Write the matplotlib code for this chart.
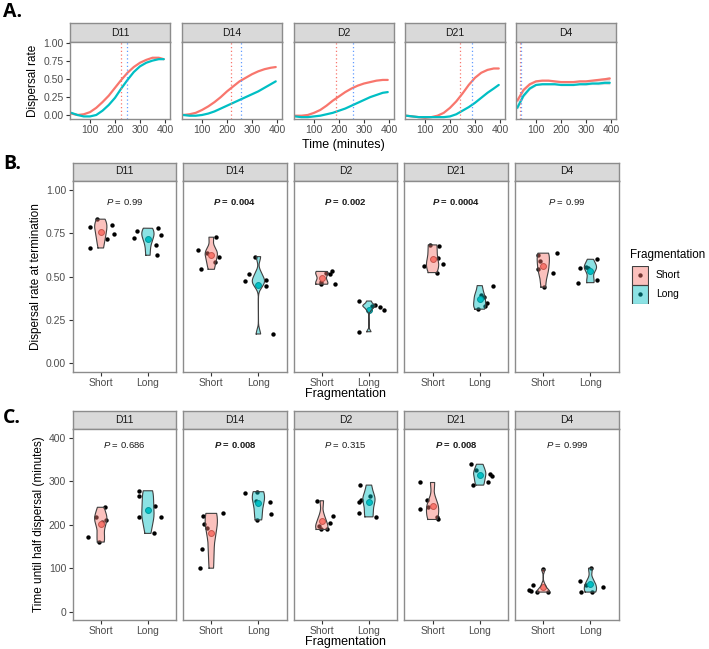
import matplotlib
matplotlib.use("Agg")
import matplotlib.pyplot as plt
import numpy as np

plt.rcParams["font.family"] = ["Liberation Sans", "DejaVu Sans"]
plt.rcParams["mathtext.fontset"] = "custom"
plt.rcParams["mathtext.it"] = "Liberation Sans:italic"
plt.rcParams["mathtext.bf"] = "Liberation Sans:bold:italic"

# ---------------- data ----------------
donors = ["D11", "D14", "D2", "D21", "D4"]
groups = ["Short", "Long"]

# A. dispersal curves (smoothed), one value per time point
minutes = [25, 50, 75, 100, 125, 150, 175, 200, 225, 250, 275, 300, 325, 350, 375, 395]
curve_short = [
    [0.02, 0.00, 0.01, 0.04, 0.10, 0.18, 0.27, 0.38, 0.49, 0.59, 0.67, 0.73, 0.77, 0.80, 0.80, 0.78],
    [0.00, 0.01, 0.03, 0.07, 0.12, 0.18, 0.25, 0.33, 0.40, 0.47, 0.52, 0.57, 0.61, 0.64, 0.66, 0.67],
    [-0.01, -0.01, 0.00, 0.03, 0.07, 0.13, 0.20, 0.26, 0.32, 0.37, 0.41, 0.44, 0.46, 0.48, 0.49, 0.49],
    [-0.01, -0.02, -0.03, -0.04, -0.03, -0.01, 0.03, 0.10, 0.19, 0.30, 0.42, 0.52, 0.59, 0.63, 0.65, 0.65],
    [0.20, 0.35, 0.43, 0.47, 0.48, 0.48, 0.47, 0.46, 0.46, 0.46, 0.47, 0.47, 0.48, 0.49, 0.50, 0.51],
]
curve_long = [
    [0.03, 0.00, -0.02, -0.02, 0.00, 0.06, 0.14, 0.24, 0.37, 0.49, 0.60, 0.68, 0.73, 0.76, 0.78, 0.78],
    [0.00, -0.01, -0.01, 0.00, 0.02, 0.05, 0.09, 0.13, 0.17, 0.21, 0.25, 0.29, 0.33, 0.38, 0.43, 0.47],
    [-0.02, -0.03, -0.03, -0.02, -0.01, 0.01, 0.03, 0.06, 0.09, 0.13, 0.17, 0.21, 0.25, 0.28, 0.31, 0.32],
    [-0.01, -0.02, -0.03, -0.03, -0.03, -0.03, -0.03, -0.02, 0.01, 0.06, 0.11, 0.17, 0.24, 0.31, 0.37, 0.42],
    [0.10, 0.27, 0.37, 0.42, 0.43, 0.43, 0.43, 0.42, 0.42, 0.42, 0.43, 0.43, 0.44, 0.44, 0.45, 0.45],
]
d4_band = [0.03, 0.02, 0.015, 0.01, 0.01, 0.01, 0.01, 0.01, 0.01, 0.01, 0.01, 0.012, 0.015, 0.018, 0.022, 0.026]
half_time_short = [224, 216, 188, 240, 36]
half_time_long = [248, 255, 257, 287, 38]

# B. dispersal rate at termination
rate_short = [
    [0.785, 0.831, 0.800, 0.748, 0.717, 0.665],
    [0.654, 0.727, 0.613, 0.638, 0.583, 0.542],
    [0.520, 0.530, 0.515, 0.456, 0.470, 0.460],
    [0.683, 0.677, 0.561, 0.571, 0.609, 0.523],
    [0.635, 0.625, 0.590, 0.542, 0.523, 0.439],
]
rate_short_x = [
    [0.78, 0.92, 1.24, 1.28, 1.13, 0.78],
    [0.72, 1.11, 1.16, 0.90, 1.07, 0.79],
    [1.10, 1.22, 1.17, 1.27, 0.98, 0.99],
    [0.95, 1.13, 0.81, 1.22, 1.11, 1.10],
    [1.30, 0.88, 0.93, 0.88, 1.21, 1.01],
]
rate_long = [
    [0.725, 0.762, 0.779, 0.738, 0.681, 0.623],
    [0.615, 0.517, 0.473, 0.481, 0.448, 0.169],
    [0.359, 0.336, 0.327, 0.308, 0.182, 0.333],
    [0.448, 0.394, 0.384, 0.346, 0.312, 0.330],
    [0.600, 0.548, 0.465, 0.481, 0.557, 0.550],
]
rate_long_x = [
    [1.70, 1.76, 2.22, 2.28, 2.17, 2.19],
    [1.93, 1.80, 1.72, 2.17, 2.17, 2.30],
    [1.80, 2.12, 2.24, 2.32, 1.80, 2.07],
    [2.28, 2.02, 2.09, 2.16, 1.96, 2.12],
    [2.14, 1.78, 1.74, 2.14, 1.90, 1.95],
]
rate_p = ["0.99", "0.004", "0.002", "0.0004", "0.99"]

# C. time until half dispersal
half_short = [
    [172, 218, 240, 211, 207, 160],
    [100, 143, 221, 201, 192, 226],
    [255, 220, 205, 197, 189, 189],
    [297, 257, 236, 241, 218, 212],
    [97, 61, 50, 48, 45, 45],
]
half_short_x = [
    [0.73, 0.89, 1.08, 1.12, 1.03, 0.97],
    [0.77, 0.81, 0.83, 0.85, 0.90, 1.25],
    [0.89, 1.23, 1.17, 0.95, 0.98, 1.11],
    [0.73, 0.88, 0.73, 0.90, 1.09, 1.11],
    [1.00, 0.79, 0.70, 0.74, 0.86, 1.09],
]
half_long = [
    [278, 267, 217, 243, 218, 180],
    [274, 276, 255, 253, 225, 211],
    [291, 257, 253, 226, 218, 266],
    [339, 317, 313, 299, 291, 326],
    [100, 71, 61, 56, 45, 45],
]
half_long_x = [
    [1.82, 1.81, 1.81, 2.15, 2.28, 2.12],
    [1.71, 1.98, 1.95, 2.25, 2.27, 1.98],
    [1.82, 1.84, 1.79, 1.79, 2.14, 2.03],
    [1.81, 2.21, 2.25, 2.18, 1.86, 1.93],
    [2.01, 1.77, 1.91, 2.26, 1.81, 2.04],
]
half_p = ["0.686", "0.008", "0.315", "0.008", "0.999"]

# ---------------- style ----------------
RED = "#F8766D"
TEAL = "#00BFC4"
BLUE = "#619CFF"
DARK_RED = "#9C3A33"
DARK_TEAL = "#00787B"
FILL_ALPHA = 0.45
BORDER = "#8C8C8C"
TICK_COL = "#4D4D4D"
W, H = 709, 649

fig = plt.figure(figsize=(W / 100, H / 100), dpi=100)


def px_axes(left, top, right, bottom):
    return fig.add_axes([left / W, 1 - bottom / H, (right - left) / W, (bottom - top) / H])


def strip(left, top, right, bottom, label):
    s = px_axes(left, top, right, bottom)
    s.set_facecolor("#D9D9D9")
    s.set_xticks([])
    s.set_yticks([])
    for sp in s.spines.values():
        sp.set_color(BORDER)
        sp.set_linewidth(1.0)
    s.text(0.5, 0.5, label, ha="center", va="center", fontsize=7.5, color="#1A1A1A",
           transform=s.transAxes)


def frame(ax):
    for sp in ax.spines.values():
        sp.set_color(BORDER)
        sp.set_linewidth(1.0)
    ax.tick_params(length=3, width=0.8, color="#333333", labelsize=7.5,
                   labelcolor=TICK_COL, pad=1.5)


def violin(ax, x0, vals, color, half_w=0.13):
    v = np.asarray(vals, dtype=float)
    n = len(v)
    q75, q25 = np.percentile(v, [75, 25])
    bw = 0.9 * min(v.std(ddof=1), (q75 - q25) / 1.34) * n ** -0.2
    grid = np.linspace(v.min(), v.max(), 256)
    dens = np.exp(-0.5 * ((grid[:, None] - v[None, :]) / bw) ** 2).sum(axis=1)
    half = dens / dens.max() * half_w
    ax.fill_betweenx(grid, x0 - half, x0 + half, facecolor=color, alpha=FILL_ALPHA,
                     edgecolor="none", zorder=4)
    xs = np.concatenate([x0 - half, (x0 + half)[::-1], [x0 - half[0]]])
    ys = np.concatenate([grid, grid[::-1], [grid[0]]])
    ax.plot(xs, ys, color="#404040", lw=0.8, zorder=5)


def p_text(ax, y, p):
    bold = float(p) < 0.05
    if bold:
        s = r"$\mathbf{P}$ = " + p
    else:
        s = r"$\mathit{P}$ = " + p
    ax.text(1.5, y, s, ha="center", va="center", fontsize=6.8,
            fontweight="bold" if bold else "normal", color="#1A1A1A")


# ---------------- panel A ----------------
a_left = [70, 182, 294, 405, 516]
for i, d in enumerate(donors):
    l = a_left[i]
    strip(l, 23, l + 100, 42, d)
    ax = px_axes(l, 42, l + 100, 119)
    frame(ax)
    if d == "D4":
        lo_s = np.array(curve_short[i]) - np.array(d4_band)
        hi_s = np.array(curve_short[i]) + np.array(d4_band)
        lo_l = np.array(curve_long[i]) - np.array(d4_band)
        hi_l = np.array(curve_long[i]) + np.array(d4_band)
        ax.fill_between(minutes, lo_s, hi_s, color="#BBBBBB", alpha=0.5, lw=0)
        ax.fill_between(minutes, lo_l, hi_l, color="#BBBBBB", alpha=0.5, lw=0)
    ax.plot(minutes, curve_short[i], color=RED, lw=1.6, solid_capstyle="round")
    ax.plot(minutes, curve_long[i], color=TEAL, lw=1.6, solid_capstyle="round")
    ax.axvline(half_time_short[i], color=RED, ls=(0, (1, 2)), lw=0.9)
    ax.axvline(half_time_long[i], color=BLUE, ls=(0, (1, 2)), lw=0.9)
    ax.set_xlim(20, 420)
    ax.set_ylim(-0.056, 1.02)
    ax.set_xticks([100, 200, 300, 400])
    ax.set_yticks([0, 0.25, 0.5, 0.75, 1.0])
    if i == 0:
        ax.set_yticklabels(["0.00", "0.25", "0.50", "0.75", "1.00"])
        ax.set_ylabel("Dispersal rate", fontsize=8.5, labelpad=3)
    else:
        ax.tick_params(axis="y", left=False, labelleft=False)

fig.text(343 / W, 1 - 145 / H, "Time (minutes)", ha="center", va="center", fontsize=9)

# ---------------- panels B and C ----------------
bc_left = [72.5, 183, 293.5, 404.3, 515]
bc_width = 103.7


def dot_panel(ax, i, short, short_x, long_, long_x, p, p_y):
    ax.scatter(short_x[i], short[i], s=10, color="black", zorder=2, lw=0)
    ax.scatter(long_x[i], long_[i], s=10, color="black", zorder=2, lw=0)
    ax.scatter([1], [np.mean(short[i])], s=18, facecolor=RED, edgecolor=DARK_RED,
               lw=0.7, zorder=3)
    ax.scatter([2], [np.mean(long_[i])], s=18, facecolor=TEAL, edgecolor=DARK_TEAL,
               lw=0.7, zorder=3)
    violin(ax, 1, short[i], RED)
    violin(ax, 2, long_[i], TEAL)
    p_text(ax, p_y, p[i])
    ax.set_xlim(0.4, 2.6)
    ax.set_xticks([1, 2])
    ax.set_xticklabels(groups)


for i, d in enumerate(donors):
    l = bc_left[i]
    # B
    strip(l, 162.5, l + bc_width, 180.5, d)
    ax = px_axes(l, 180.5, l + bc_width, 371.7)
    frame(ax)
    dot_panel(ax, i, rate_short, rate_short_x, rate_long, rate_long_x, rate_p, 0.93)
    ax.set_ylim(-0.0485, 1.054)
    ax.set_yticks([0, 0.25, 0.5, 0.75, 1.0])
    if i == 0:
        ax.set_yticklabels(["0.00", "0.25", "0.50", "0.75", "1.00"])
        ax.set_ylabel("Dispersal rate at termination", fontsize=8.5, labelpad=3)
    else:
        ax.tick_params(axis="y", left=False, labelleft=False)

    # C
    strip(l, 411, l + bc_width, 429, d)
    ax = px_axes(l, 429, l + bc_width, 619.5)
    frame(ax)
    dot_panel(ax, i, half_short, half_short_x, half_long, half_long_x, half_p, 383)
    ax.set_ylim(-18, 420)
    ax.set_yticks([0, 100, 200, 300, 400])
    if i == 0:
        ax.set_ylabel("Time until half dispersal (minutes)", fontsize=8.5, labelpad=3)
    else:
        ax.tick_params(axis="y", left=False, labelleft=False)

fig.text(345 / W, 1 - 394 / H, "Fragmentation", ha="center", va="center", fontsize=9)
fig.text(345 / W, 1 - 642 / H, "Fragmentation", ha="center", va="center", fontsize=9)

# ---------------- legend ----------------
fig.text(630 / W, 1 - 255 / H, "Fragmentation", ha="left", va="center", fontsize=8.4)
lg = px_axes(631, 266, 649, 304)
lg.set_xlim(0, 1)
lg.set_ylim(0, 2)
lg.axis("off")
for k, (c, name) in enumerate([(RED, "Short"), (TEAL, "Long")]):
    y0 = 1 - k
    lg.scatter([0.5], [y0 + 0.5], s=10, color="black", zorder=1, lw=0)
    lg.add_patch(plt.Rectangle((0.03, y0 + 0.02), 0.94, 0.96, facecolor=c, alpha=FILL_ALPHA,
                               edgecolor="none", zorder=2))
    lg.add_patch(plt.Rectangle((0.03, y0 + 0.02), 0.94, 0.96, facecolor="none",
                               edgecolor="#404040", lw=0.8, zorder=3))
    fig.text(656 / W, 1 - (275.5 + 18.3 * k) / H, name, ha="left", va="center", fontsize=7.5)

# ---------------- panel letters ----------------
for lab, y in [("A.", 12), ("B.", 164), ("C.", 418)]:
    fig.text(3 / W, 1 - y / H, lab, ha="left", va="center", fontsize=14, fontweight="bold",
             family=["Open Sans", "DejaVu Sans"])

fig.savefig("out.png", dpi=100)
